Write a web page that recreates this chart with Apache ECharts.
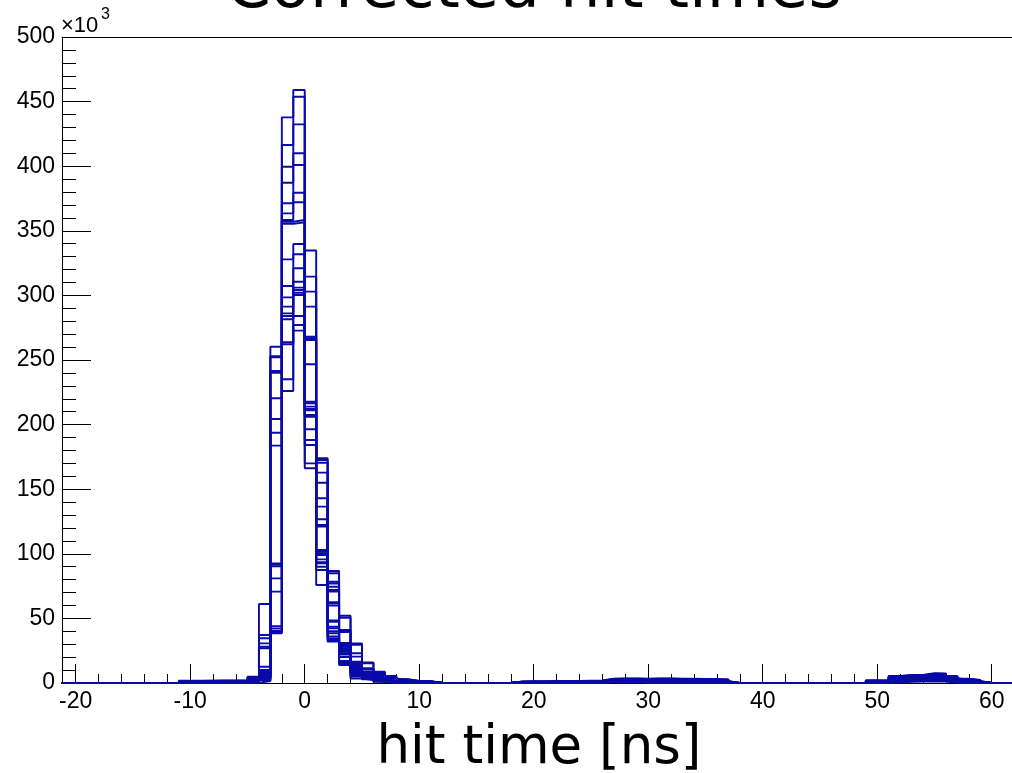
<!DOCTYPE html>
<html><head><meta charset="utf-8">
<script src="https://cdn.jsdelivr.net/npm/echarts@6/dist/echarts.min.js"></script>
<style>html,body{margin:0;padding:0;background:#fff}#c{width:1012px;height:773px}</style>
</head><body><div id="c"></div>
<script>
// ---- text ----
const titleText = 'Corrected hit times';
const xTitle = 'hit time [ns]';
const yExponent = ['\u00d710', '3'];

// ---- axes ----
const xMin = -21.2, xMax = 61.77;
const yMin = 0, yMax = 500, yStep = 50;        // in units of 10^3
const xMajorTicks = [-20, -10, 0, 10, 20, 30, 40, 50, 60];
const xMinorTicks = [-18,-16,-14,-12,-8,-6,-4,-2,2,4,6,8,12,14,16,18,22,24,26,28,32,34,36,38,42,44,46,48,52,54,56,58];

// ---- histograms: 20 overlaid histograms, 1 ns bins, counts in 10^3 ----
const histStart = -22, histEnd = 63;   // full binned range (empty bins = 0)
const nHist = 20;
// lower edge of each non-empty bin
const binLow = [-11,-10,-9,-8,-7,-6,-5,-4,-3,-2,-1,0,1,2,3,4,5,6,7,8,9,10,
                18,19,20,21,22,23,24,25,26,27,28,29,30,31,32,33,34,35,36,
                49,50,51,52,53,54,55,56,57,58];
// per bin: the 20 histogram contents (sorted high -> low)
const binCounts = [
 [1.7,1.5,1.4,1.3,1.2,1.1,1.0,0.9,0.8,0.7,0.6,0.5,0.5,0.4,0.3,0.3,0.2,0.1,0.1,0.0],
 [1.8,1.6,1.5,1.4,1.3,1.2,1.1,1.0,0.9,0.8,0.7,0.6,0.5,0.4,0.4,0.3,0.2,0.2,0.1,0.0],
 [1.8,1.7,1.5,1.4,1.3,1.2,1.1,1.0,0.9,0.8,0.7,0.6,0.6,0.5,0.4,0.3,0.2,0.2,0.1,0.0],
 [1.9,1.7,1.6,1.5,1.3,1.2,1.1,1.0,0.9,0.8,0.8,0.7,0.6,0.5,0.4,0.3,0.3,0.2,0.1,0.0],
 [2.0,1.8,1.6,1.5,1.4,1.3,1.2,1.1,1.0,0.9,0.8,0.7,0.6,0.5,0.4,0.4,0.3,0.2,0.1,0.0],
 [2.2,2.0,1.8,1.7,1.5,1.4,1.3,1.2,1.1,1.0,0.9,0.8,0.7,0.6,0.5,0.4,0.3,0.2,0.1,0.0],
 [4.9,4.5,4.1,3.8,3.5,3.2,3.0,2.8,2.6,2.4,2.2,2.0,1.8,1.6,1.4,1.2,1.0,0.8,0.5,0.2],
 [61.1,37.2,34.6,30.7,28.1,26.9,12.6,10.1,8.6,7.9,7.2,6.5,5.8,5.2,4.6,4.0,3.4,2.8,2.2,1.5],
 [260.3,253.0,252.0,241.5,240.0,220.4,204.3,193.7,183.7,92.6,91.4,90.3,81.0,70.7,44.0,42.3,40.5,39.5,38.9,38.5],
 [437.8,416.4,399.6,387.2,371.3,363.5,358.4,357.0,355.5,327.9,307.3,298.5,291.3,286.1,284.1,281.5,263.7,262.2,235.1,226.0],
 [459.0,453.8,432.4,410.0,400.9,379.5,372.1,358.4,356.5,339.8,331.8,321.0,310.6,306.0,304.2,302.1,300.3,284.1,277.1,272.7],
 [334.8,314.5,302.9,291.3,268.0,266.8,265.5,246.7,217.7,216.5,213.9,212.1,211.0,207.4,206.1,196.4,188.1,184.2,170.0,166.2],
 [173.9,172.6,170.5,162.8,155.0,143.0,136.5,126.7,122.3,121.0,102.9,101.6,100.5,99.1,95.7,93.5,92.6,90.0,87.5,75.9],
 [86.7,85.0,78.4,77.0,74.5,72.0,70.7,62.5,61.7,60.0,48.5,47.4,43.5,42.3,40.0,38.5,36.0,34.5,33.3,32.0],
 [52.1,50.5,41.0,39.5,31.0,30.2,29.3,28.5,27.6,26.8,26.0,25.1,24.2,23.0,22.0,20.1,17.0,15.5,14.5,13.9],
 [30.7,29.5,23.0,20.4,16.5,15.5,14.5,13.5,12.8,12.0,11.2,10.5,9.8,9.0,8.2,7.5,6.8,6.2,4.9,3.5],
 [16.0,15.2,11.4,10.5,8.7,8.3,7.9,7.5,7.1,6.7,6.3,5.9,5.5,5.1,4.7,4.3,3.9,3.5,2.8,2.2],
 [8.7,8.2,7.0,6.3,5.7,5.2,4.8,4.4,4.0,3.7,3.4,3.1,2.8,2.5,2.2,1.9,1.6,1.3,1.0,0.7],
 [5.4,5.0,4.4,4.0,3.6,3.3,3.0,2.7,2.5,2.2,2.0,1.8,1.6,1.4,1.2,1.0,0.8,0.6,0.4,0.2],
 [2.9,2.7,2.5,2.3,2.1,1.9,1.8,1.6,1.5,1.3,1.2,1.0,0.9,0.8,0.6,0.5,0.4,0.3,0.2,0.1],
 [1.6,1.5,1.4,1.3,1.2,1.1,1.0,0.9,0.8,0.7,0.6,0.6,0.5,0.4,0.3,0.3,0.2,0.1,0.1,0.0],
 [1.5,1.4,1.3,1.2,1.1,1.0,0.9,0.8,0.7,0.7,0.6,0.5,0.4,0.4,0.3,0.2,0.2,0.1,0.1,0.0],
 [1.2,1.1,1.0,0.9,0.8,0.8,0.7,0.6,0.6,0.5,0.4,0.4,0.3,0.3,0.2,0.2,0.1,0.1,0.0,0.0],
 [1.3,1.2,1.1,1.0,0.9,0.8,0.7,0.7,0.6,0.5,0.5,0.4,0.3,0.3,0.2,0.2,0.1,0.1,0.0,0.0],
 [1.3,1.2,1.1,1.0,0.9,0.8,0.8,0.7,0.6,0.5,0.5,0.4,0.4,0.3,0.2,0.2,0.1,0.1,0.0,0.0],
 [1.4,1.3,1.2,1.1,1.0,0.9,0.8,0.7,0.6,0.6,0.5,0.4,0.4,0.3,0.2,0.2,0.1,0.1,0.0,0.0],
 [1.5,1.3,1.2,1.1,1.0,0.9,0.8,0.7,0.7,0.6,0.5,0.5,0.4,0.3,0.3,0.2,0.1,0.1,0.0,0.0],
 [1.6,1.4,1.3,1.2,1.1,1.0,0.9,0.8,0.7,0.6,0.6,0.5,0.4,0.4,0.3,0.2,0.2,0.1,0.0,0.0],
 [1.8,1.6,1.4,1.3,1.2,1.1,1.0,0.9,0.8,0.7,0.6,0.5,0.5,0.4,0.3,0.3,0.2,0.1,0.1,0.0],
 [2.0,1.8,1.6,1.5,1.3,1.2,1.1,1.0,0.9,0.8,0.7,0.6,0.5,0.5,0.4,0.3,0.2,0.2,0.1,0.0],
 [3.4,3.2,3.0,2.8,2.6,2.5,2.3,2.2,2.0,1.9,1.8,1.7,1.5,1.4,1.3,1.2,1.1,1.0,0.9,0.8],
 [3.5,3.3,3.1,2.9,2.7,2.6,2.4,2.3,2.1,2.0,1.9,1.7,1.6,1.5,1.4,1.3,1.2,1.1,1.0,0.9],
 [3.5,3.3,3.1,2.9,2.8,2.6,2.5,2.3,2.2,2.0,1.9,1.8,1.6,1.5,1.4,1.3,1.2,1.1,1.0,0.8],
 [3.4,3.2,3.0,2.8,2.6,2.4,2.2,2.0,1.8,1.7,1.5,1.3,1.2,1.0,0.8,0.7,0.5,0.3,0.2,0.0],
 [3.5,3.3,3.1,2.9,2.7,2.5,2.3,2.1,1.9,1.7,1.5,1.4,1.2,1.0,0.9,0.7,0.5,0.4,0.2,0.0],
 [3.5,3.3,3.1,2.9,2.7,2.5,2.3,2.1,1.9,1.7,1.6,1.4,1.2,1.0,0.9,0.7,0.5,0.3,0.2,0.0],
 [3.4,3.2,3.0,2.8,2.6,2.4,2.2,2.1,1.9,1.7,1.5,1.3,1.2,1.0,0.8,0.7,0.5,0.3,0.2,0.0],
 [3.3,3.1,2.9,2.7,2.5,2.3,2.2,2.0,1.8,1.6,1.5,1.3,1.1,1.0,0.8,0.6,0.5,0.3,0.1,0.0],
 [3.2,3.0,2.8,2.6,2.4,2.3,2.1,1.9,1.8,1.6,1.4,1.3,1.1,0.9,0.8,0.6,0.4,0.3,0.1,0.0],
 [3.0,2.8,2.7,2.5,2.3,2.1,2.0,1.8,1.7,1.5,1.4,1.2,1.0,0.9,0.7,0.6,0.4,0.3,0.1,0.0],
 [2.8,2.6,2.5,2.3,2.1,2.0,1.8,1.7,1.5,1.4,1.3,1.1,1.0,0.8,0.7,0.5,0.4,0.2,0.1,0.0],
 [2.0,1.9,1.7,1.6,1.5,1.4,1.3,1.2,1.1,1.0,0.9,0.8,0.7,0.6,0.5,0.4,0.3,0.2,0.1,0.0],
 [2.2,2.0,1.9,1.8,1.6,1.5,1.4,1.3,1.2,1.1,1.0,0.9,0.8,0.7,0.6,0.5,0.4,0.3,0.1,0.0],
 [5.4,5.1,4.8,4.5,4.2,3.9,3.6,3.4,3.2,3.0,2.8,2.6,2.4,2.2,2.0,1.8,1.5,1.2,0.8,0.4],
 [6.2,6.0,5.7,5.4,5.2,4.9,4.7,4.4,4.2,4.0,3.7,3.5,3.2,3.0,2.7,2.4,2.1,1.8,1.4,1.0],
 [6.3,6.1,5.8,5.5,5.3,5.0,4.8,4.5,4.3,4.1,3.8,3.6,3.3,3.1,2.8,2.5,2.2,1.9,1.5,1.1],
 [7.5,7.2,6.9,6.6,6.3,6.0,5.7,5.4,5.1,4.9,4.6,4.3,4.0,3.7,3.4,3.0,2.6,2.2,1.7,1.2],
 [7.4,7.1,6.8,6.5,6.2,5.9,5.6,5.3,5.0,4.8,4.5,4.2,3.9,3.6,3.3,2.9,2.5,2.1,1.6,1.1],
 [5.4,5.1,4.8,4.5,4.2,4.0,3.7,3.5,3.2,3.0,2.8,2.5,2.3,2.1,1.8,1.6,1.3,1.0,0.6,0.2],
 [3.3,3.1,2.9,2.7,2.5,2.4,2.2,2.0,1.9,1.7,1.5,1.4,1.2,1.0,0.9,0.7,0.5,0.3,0.2,0.0],
 [2.3,2.1,2.0,1.9,1.7,1.6,1.5,1.4,1.2,1.1,1.0,0.9,0.8,0.6,0.5,0.4,0.3,0.2,0.1,0.0]
];

const histColor = '#0a0aa8';
const axisColor = '#000000';

// ---- build step series ----
const series = [];
for (let s = 0; s < nHist; s++) {
  const pts = [];
  for (let b = histStart; b < histEnd; b++) {
    const i = binLow.indexOf(b);
    pts.push([b, i >= 0 ? binCounts[i][s] : 0]);
  }
  pts.push([histEnd, pts[pts.length - 1][1]]);
  series.push({
    type: 'line', step: 'end', data: pts, xAxisIndex: 0, yAxisIndex: 0,
    symbol: 'none', showSymbol: false, silent: true, animation: false,
    lineStyle: { color: histColor, width: 1.9 }, z: 3
  });
}

const chart = echarts.init(document.getElementById('c'), null, { renderer: 'canvas' });
const labelFont = 'Liberation Sans';
chart.setOption({
  animation: false,
  backgroundColor: '#ffffff',
  grid: { left: 62, top: 37, right: 0, bottom: 90, containLabel: false, show: false },
  xAxis: [
    { type: 'value', min: xMin, max: xMax, position: 'bottom',
      axisLine: { show: true, onZero: false, lineStyle: { color: axisColor, width: 1 } },
      axisTick: { show: true, inside: true, length: 19, customValues: xMajorTicks, lineStyle: { color: axisColor, width: 1 } },
      axisLabel: { show: true, customValues: xMajorTicks, color: '#000', fontFamily: labelFont, fontSize: 23, margin: 7 },
      splitLine: { show: false } },
    { type: 'value', min: xMin, max: xMax, position: 'bottom', gridIndex: 0,
      axisLine: { show: false, onZero: false },
      axisTick: { show: true, inside: true, length: 9, customValues: xMinorTicks, lineStyle: { color: axisColor, width: 1 } },
      axisLabel: { show: false }, splitLine: { show: false } },
    { type: 'value', min: xMin, max: xMax, position: 'top', gridIndex: 0,
      axisLine: { show: true, onZero: false, lineStyle: { color: axisColor, width: 1 } },
      axisTick: { show: false }, axisLabel: { show: false }, splitLine: { show: false } }
  ],
  yAxis: {
    type: 'value', min: yMin, max: yMax, interval: yStep,
    axisLine: { show: true, onZero: false, lineStyle: { color: axisColor, width: 1 } },
    axisTick: { show: true, inside: true, length: 29, lineStyle: { color: axisColor, width: 1 } },
    minorTick: { show: true, splitNumber: 5, length: 14, lineStyle: { color: axisColor, width: 1 } },
    axisLabel: { color: '#000', fontFamily: labelFont, fontSize: 23, margin: 7 },
    splitLine: { show: false }, minorSplitLine: { show: false }
  },
  graphic: [
    { type: 'text', x: 534, y: -10, silent: true,
      style: { text: titleText, font: '64px "DejaVu Sans"', fill: '#000', align: 'center', verticalAlign: 'middle', textAlign: 'center', textVerticalAlign: 'middle' } },
    { type: 'text', x: 539, y: 749, silent: true,
      style: { text: xTitle, font: '53px "DejaVu Sans"', fill: '#000', align: 'center', verticalAlign: 'middle', textAlign: 'center', textVerticalAlign: 'middle' } },
    { type: 'text', x: 61, y: 26, silent: true,
      style: { text: yExponent[0], font: '22px "Liberation Sans"', fill: '#000', align: 'left', verticalAlign: 'middle', textAlign: 'left', textVerticalAlign: 'middle' } },
    { type: 'text', x: 101, y: 15, silent: true,
      style: { text: yExponent[1], font: '16px "Liberation Sans"', fill: '#000', align: 'left', verticalAlign: 'middle', textAlign: 'left', textVerticalAlign: 'middle' } }
  ],
  series: series
});
</script>
</body></html>
